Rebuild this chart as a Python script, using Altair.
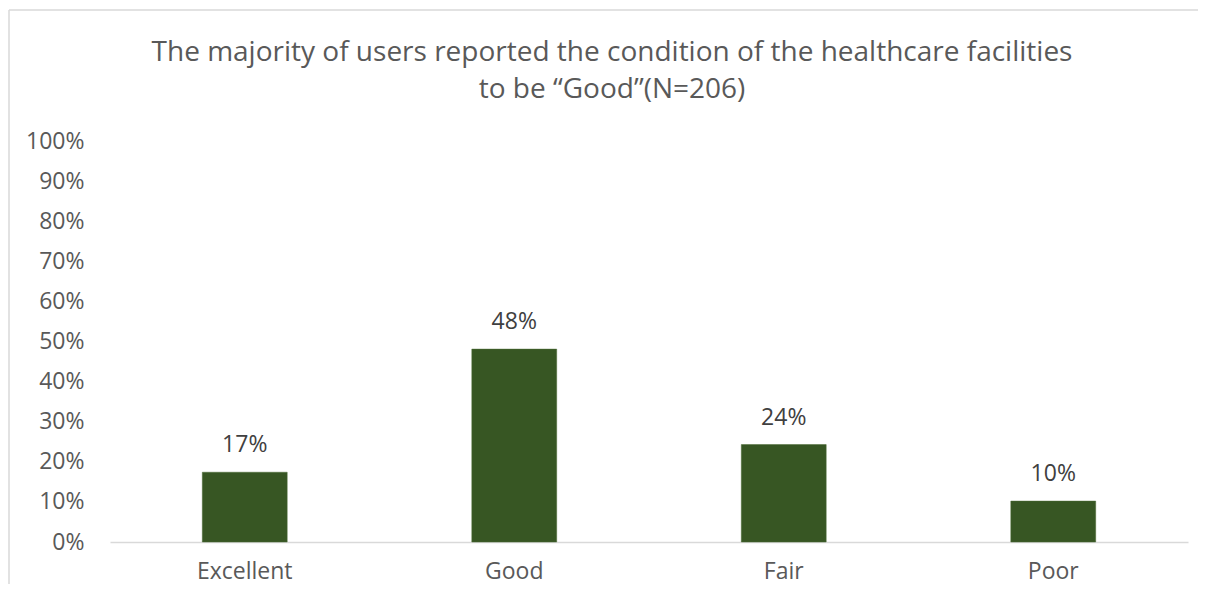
import altair as alt
import pandas as pd

categories = ["Excellent", "Good", "Fair", "Poor"]
shares = [0.174, 0.481, 0.243, 0.102]
y_ticks = [0.0, 0.1, 0.2, 0.3, 0.4, 0.5, 0.6, 0.7, 0.8, 0.9, 1.0]
title_lines = [
    "The majority of users reported the condition of the healthcare facilities",
    "to be \u201cGood\u201d(N=206)",
]

df = pd.DataFrame({"category": categories, "share": shares})

FONT = "Open Sans"
W, H = 1078, 401
TOP = 133

x_enc = alt.X(
    "category:N",
    sort=categories,
    scale=alt.Scale(paddingInner=0.685, paddingOuter=0.3425),
    axis=alt.Axis(
        title=None,
        labelAngle=0,
        labelFontSize=23,
        labelFont=FONT,
        labelColor="#595959",
        labelPadding=18,
        ticks=False,
        domainColor="#d9d9d9",
        domainWidth=1.5,
        grid=False,
    ),
)
y_enc = alt.Y(
    "share:Q",
    scale=alt.Scale(domain=[0, 1], nice=False),
    axis=alt.Axis(
        title=None,
        values=y_ticks,
        format=".0%",
        labelFontSize=23,
        labelFont=FONT,
        labelColor="#595959",
        labelPadding=26,
        ticks=False,
        domain=False,
        grid=False,
    ),
)

bars = alt.Chart(df).mark_bar(color="#375623", stroke="#4a6a35", strokeWidth=0.5).encode(x=x_enc, y=y_enc)

labels = alt.Chart(df).mark_text(
    dy=-27, fontSize=23, font=FONT, color="#404040", baseline="middle"
).encode(x=alt.X("category:N", sort=categories), y="share:Q", text=alt.Text("share:Q", format=".0%"))

frame_data = alt.Data(values=[{"a": 1}])
border_top = alt.Chart(frame_data).mark_rule(stroke="#d9d9d9", strokeWidth=1.5).encode(
    x=alt.value(-101), x2=alt.value(1300), y=alt.value(-(TOP - 2))
)
border_left = alt.Chart(frame_data).mark_rule(stroke="#d9d9d9", strokeWidth=1.5).encode(
    x=alt.value(-101), y=alt.value(-(TOP - 2)), y2=alt.value(600)
)

chart = (
    alt.layer(border_top, border_left, bars, labels)
    .properties(
        width=W,
        height=H,
        padding={"left": 102, "top": TOP, "right": 10, "bottom": 42},
        autosize=alt.AutoSizeParams(type="none"),
        title=alt.TitleParams(
            text=title_lines,
            font=FONT,
            fontSize=28,
            fontWeight="normal",
            color="#595959",
            anchor="middle",
            frame="group",
            dx=-37,
            lineHeight=37,
            offset=-95,
        ),
    )
    .configure_view(stroke=None)
)

chart.save("out.html", embed_options={"renderer": "svg", "actions": False})
